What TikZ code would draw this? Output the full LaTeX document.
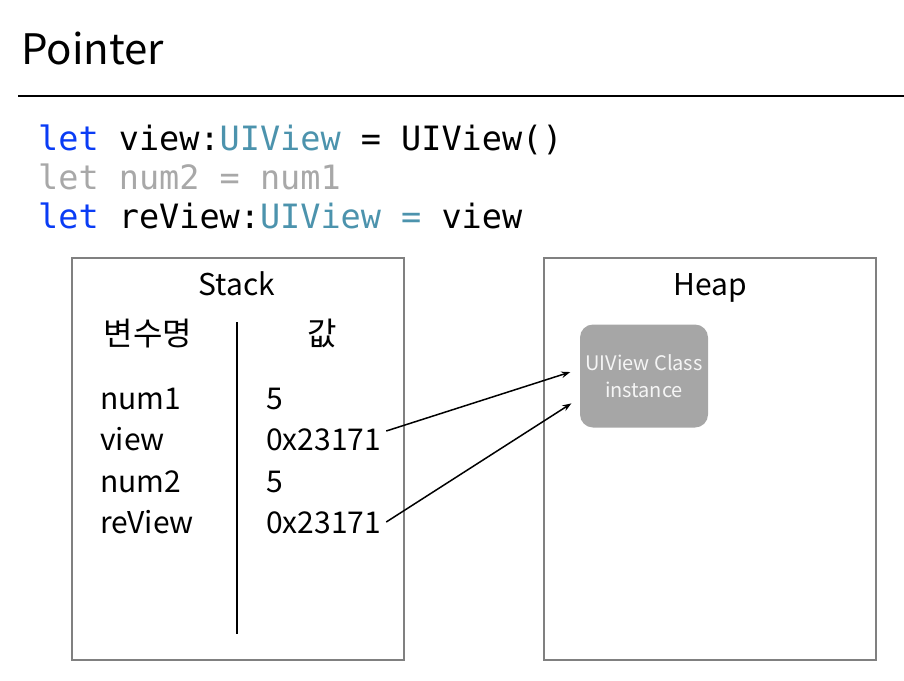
\documentclass[tikz,border=0pt]{standalone}
\usepackage{fontspec}
\setmainfont{Noto Sans CJK KR}
\setmonofont{DejaVu Sans Mono}
\usetikzlibrary{arrows.meta,positioning}
\definecolor{cclave}{HTML}{0A3CF5}
\definecolor{ctipo}{HTML}{4C93AD}
\definecolor{capagado}{HTML}{A8A8A8}
\definecolor{cmarco}{HTML}{808080}
\definecolor{cinst}{HTML}{A6A6A6}
\tikzset{
  marco/.style={draw=cmarco,line width=1.8pt},
  titulo/.style={anchor=base west,inner sep=0pt,font=\fontsize{42}{50}\selectfont},
  codigo/.style={anchor=base west,inner sep=0pt,font=\fontsize{33.5}{40}\ttfamily},
  cab/.style={anchor=base,inner sep=0pt,font=\fontsize{30}{36}\selectfont},
  cabk/.style={cab,font=\fontsize{32}{38}\selectfont},
  dato/.style={anchor=base west,inner sep=0pt,font=\fontsize{30}{36}\selectfont},
  objeto/.style={fill=cinst,rounded corners=13pt,minimum width=128pt,minimum height=103pt,
                 align=center,text=white!96!black,font=\fontsize{20}{27}\selectfont},
  puntero/.style={-{Stealth[length=9pt,width=6.5pt]},line width=1.5pt,shorten >=10pt},
}
\begin{document}
\begin{tikzpicture}[x=1pt,y=-1pt]
\useasboundingbox (0,0) rectangle (904,680);

% ---------------- titulo y codigo ----------------
\node[titulo] (tit) at (21,64) {Pointer};
\draw[line width=1.8pt] (18,96) -- (904,96);

\node[codigo] (c1) at (38,150) {\textcolor{cclave}{let} view:\textcolor{ctipo}{UIView} = UIView()};
\node[codigo,text=capagado] (c2) at (38,189) {let num2 = num1};
\node[codigo] (c3) at (38,228) {\textcolor{cclave}{let} reView:\textcolor{ctipo}{UIView} \textcolor{ctipo}{=} view};

% ---------------- stack ----------------
\draw[marco] (72,258) rectangle (404,660);
\node[cab] (st) at (237,295) {Stack};
\node[cabk] (hn) at (148,345) {변수명};
\node[cabk] (hv) at (322,345) {값};
\draw[line width=1.8pt] (237,322) -- (237,634);

\node[dato] (n1) at (100,409) {num1};
\node[dato] (n2) at (100,450) {view};
\node[dato] (n3) at (100,492) {num2};
\node[dato] (n4) at (100,533) {reView};
\node[dato] (v1) at (266,409) {5};
\node[dato] (v2) at (266,450) {0x23171};
\node[dato] (v3) at (266,492) {5};
\node[dato] (v4) at (266,533) {0x23171};

% ---------------- heap ----------------
\draw[marco] (544,258) rectangle (876,660);
\node[cab] (hp) at (710,295) {Heap};
\node[objeto] (inst) at (644,376) {UIView Class\\instance};

\draw[puntero] ([shift={(5pt,19pt)}]v2.base east) -- ([yshift=7pt]inst.west);
\draw[puntero] ([shift={(5pt,11pt)}]v4.base east) -- ([yshift=-22pt]inst.west);

\end{tikzpicture}
\end{document}
